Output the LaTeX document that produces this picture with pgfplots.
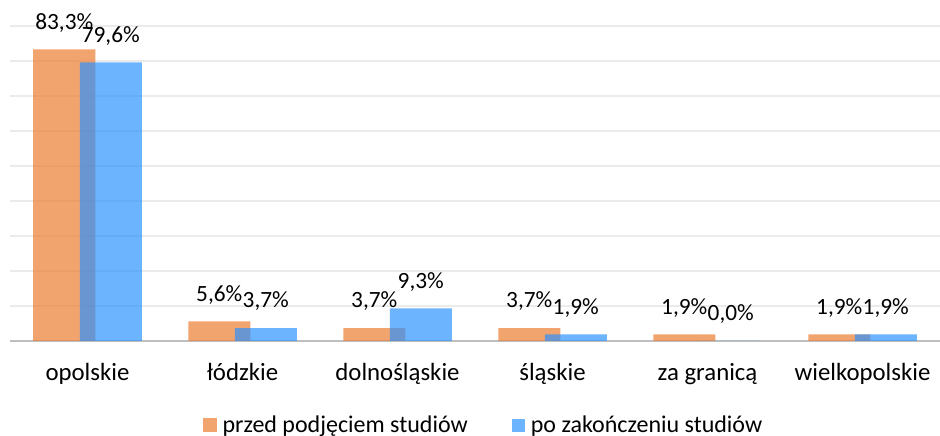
\documentclass[border=0pt]{standalone}
\usepackage{pgfplots}
\pgfplotsset{compat=1.18}
\usepackage{fontspec}
\setmainfont{Carlito}
\definecolor{myorange}{HTML}{ED7D31}
\definecolor{myblue}{RGB}{40,145,255}
\begin{document}
\fontsize{24pt}{28pt}\selectfont
\begin{tikzpicture}
\begin{axis}[
  at={(10pt,95pt)}, anchor=south west,
  scale only axis, width=930pt, height=315pt,
  xmin=-0.5, xmax=5.5, ymin=0, ymax=90,
  clip=false,
  axis x line*=bottom, axis y line*=left,
  x axis line style={draw=black!25, line width=2pt, -},
  y axis line style={draw=none},
  ytick={10,20,...,90}, yticklabels={},
  ymajorgrids, major grid style={draw=black!8, line width=1.3pt},
  major tick length=0pt,
  xtick={0,1,2,3,4,5},
  xticklabels={opolskie,łódzkie,dolnośląskie,śląskie,za granicą,wielkopolskie},
  xticklabel style={anchor=base, yshift=-40pt, font=\fontsize{24.8pt}{28pt}\selectfont},
  nodes near coords={\pgfmathprintnumber[fixed,fixed zerofill,precision=1,use comma,assume math mode=true]{\pgfplotspointmeta}\%},
  every node near coord/.append style={inner sep=0pt, yshift=17pt, text=black, text opacity=1, font=\fontsize{23.3pt}{28pt}\selectfont},
  legend columns=2,
  legend style={at={(0.508,-0.27)}, anchor=center, draw=none, fill=none,
    /tikz/every even column/.append style={column sep=44pt},
    nodes={inner sep=0pt, text=black, text opacity=1}},
  legend cell align=left,
]
\addplot[ybar, bar width=62pt, bar shift=-23.25pt, fill=myorange, fill opacity=0.7, draw=none,
  every node near coord/.append style={xshift=-23.25pt},
  legend image code/.code={\fill[myorange, fill opacity=0.7] (0pt,-6pt) rectangle (14pt,8pt);}]
  coordinates {(0,83.3) (1,5.6) (2,3.7) (3,3.7) (4,1.9) (5,1.9)};
\addlegendentry{\hspace{6pt}przed podjęciem studiów}
\addplot[ybar, bar width=62pt, bar shift=23.25pt, fill=myblue, fill opacity=0.68, draw=none,
  every node near coord/.append style={xshift=23.25pt},
  legend image code/.code={\fill[myblue, fill opacity=0.68] (0pt,-6pt) rectangle (13pt,7pt);}]
  coordinates {(0,79.6) (1,3.7) (2,9.3) (3,1.9) (4,0.0) (5,1.9)};
\addlegendentry{\hspace{6pt}po zakończeniu studiów}
\end{axis}
\pgfresetboundingbox
\path[use as bounding box] (0,0) rectangle (940pt,436pt);
\end{tikzpicture}
\end{document}
